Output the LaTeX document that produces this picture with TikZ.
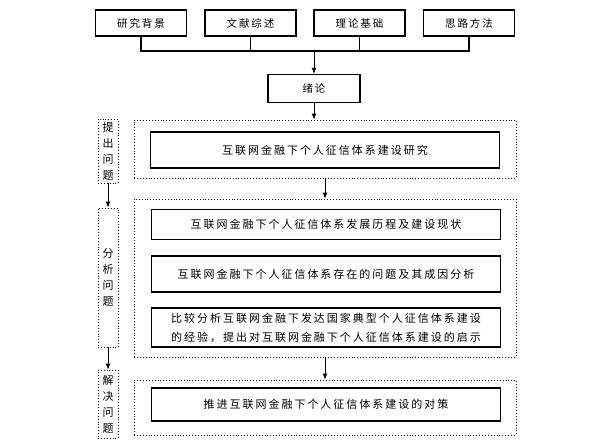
\documentclass[tikz,border=0pt]{standalone}
\usepackage{fontspec}
\newfontfamily\cjk[LetterSpace=18]{Noto Sans CJK SC}
\usetikzlibrary{arrows.meta}
\tikzset{
  topbox/.style={draw, line width=1.3pt, minimum width=91pt, minimum height=26pt, inner sep=0pt, font=\cjk\fontsize{10.5}{12}\selectfont},
  mainbox/.style={draw, line width=1.8pt, minimum width=349pt, inner sep=0pt, align=center, font=\cjk\fontsize{11}{19}\selectfont},
  dotbox/.style={draw, dotted, line width=0.9pt, minimum width=382pt, inner sep=0pt},
  sidebox/.style={draw, dotted, line width=0.9pt, minimum width=20pt, inner sep=0pt, align=center, font=\cjk\fontsize{11}{16}\selectfont},
  arr/.style={-{Latex[length=6pt,width=5pt]}, line width=0.9pt}
}
\begin{document}
\begin{tikzpicture}[x=1pt,y=-1pt]
 \useasboundingbox (0,0) rectangle (606,447);
 % top row
 \node[topbox] (bj) at (141,23){研究背景};
 \node[topbox] (wx) at (250.5,23){文献综述};
 \node[topbox] (ll) at (359.5,23){理论基础};
 \node[topbox] (sl) at (469,23){思路方法};
 \coordinate (bus) at (314,51);
 \draw[line width=1.3pt] (bj.south) -- (bj.south |- bus) -- (sl.south |- bus) -- (sl.south);
 \draw[line width=0.9pt] (wx.south) -- (wx.south |- bus);
 \draw[line width=0.9pt] (ll.south) -- (ll.south |- bus);
 \node[topbox, minimum width=92pt, minimum height=28pt] (xl) at (314,88.5){绪论};
 \draw[arr] (bus) -- (xl.north);
 % dotted groups
 \node[dotbox, minimum height=58pt] (g1) at (325,149){};
 \node[dotbox, minimum height=158pt] (g2) at (325,278){};
 \node[dotbox, minimum height=55pt] (g3) at (325,407.5){};
 \node[mainbox, minimum height=36pt] (t1) at (325,150){互联网金融下个人征信体系建设研究};
 \node[mainbox, minimum height=30pt] (t2) at (326,224.5){互联网金融下个人征信体系发展历程及建设现状};
 \node[mainbox, minimum height=36pt] (t3) at (326,274){互联网金融下个人征信体系存在的问题及其成因分析};
 \node[mainbox, minimum height=39pt] (t4) at (326,327.5){比较分析互联网金融下发达国家典型个人征信体系建设\\的经验，提出对互联网金融下个人征信体系建设的启示};
 \node[mainbox, minimum height=33pt] (t5) at (326,404.5){推进互联网金融下个人征信体系建设的对策};
 \draw[arr] (xl.south) -- (xl.south |- g1.north);
 \draw[arr] (g1.south) -- (g2.north);
 \draw[arr] (g2.south) -- (g3.north);
 % stages on the left
 \node[sidebox, minimum height=64pt] (s1) at (108,151){提\\出\\问\\题};
 \node[sidebox, minimum height=139pt] (s2) at (108,277.5){分\\析\\问\\题};
 \node[sidebox, minimum height=68pt] (s3) at (108,404){解\\决\\问\\题};
 \draw[arr] (s1.south) -- (s2.north);
 \draw[arr] (s2.south) -- (s3.north);
\end{tikzpicture}
\end{document}
